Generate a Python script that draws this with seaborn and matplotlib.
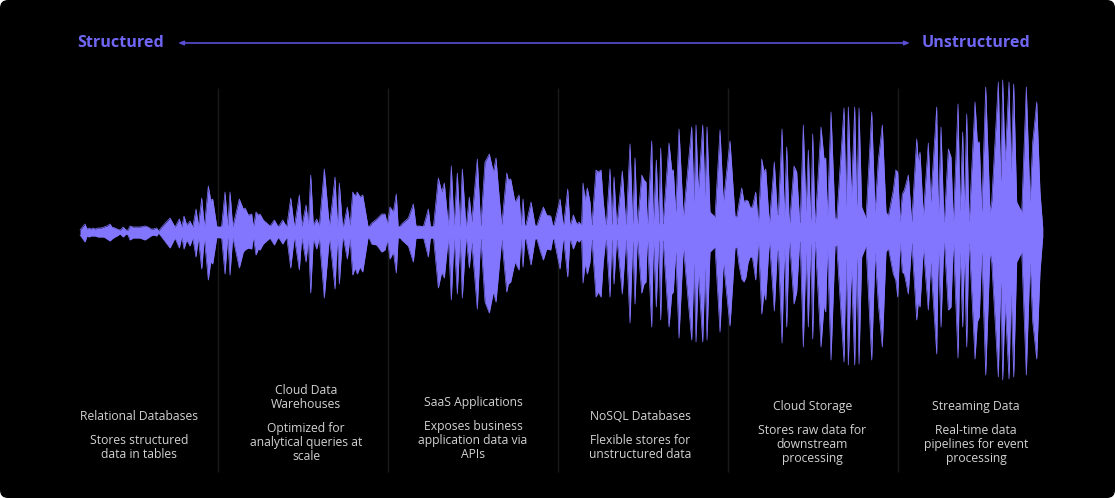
#!/usr/bin/env python3
"""
Waveform chart: structured to unstructured data sources
"""

import matplotlib
matplotlib.use('Agg')
import matplotlib.pyplot as plt
import pandas as pd
import seaborn as sns
from matplotlib.patches import FancyBboxPatch

# Waveform envelope
wave_x = [
    80, 85, 87, 89, 91, 93, 95, 98, 101, 104,
    107, 110, 112, 115, 117, 120, 123.3, 126, 128, 130,
    133, 136.7, 140, 145, 148, 151, 153.3, 156.7, 158.5,
    161.7, 170, 175,
    179.3, 181.7, 184, 186.7, 190, 192.7, 196, 198.3, 201.7, 204.3,
    208.3, 210.7, 212.7, 216.7, 221.3, 225, 227.7, 230, 232.7, 239.3,
    243.3, 245, 248.3, 251.7, 253.3, 256, 258.3, 260, 263.3, 270,
    274.3, 278.3, 282.7, 286.7, 290.7, 294.3, 299.3, 301.7, 306, 308.3,
    310.7, 313.3, 316.7, 319.3, 324.3, 329.3, 331.7, 335, 337.3, 339.3,
    342.7, 347.3, 350, 352.7, 355, 357.3, 360, 362.7, 368.3, 371.7,
    376.7, 381.7, 385, 387.3,
    390, 393.3, 396.3, 398.3, 401.7, 405, 408.3, 413.3, 416, 420,
    423.3, 428.3, 430.7, 433.3, 438.3, 441.7, 444.3, 448.3, 451.3, 454,
    457.3, 460, 462.3, 466, 469.3, 471.7, 477.3, 480.7, 485, 489.3,
    493.3, 496, 498.3, 501.7, 506.7, 508.3, 510.7, 515, 519, 521,
    523, 525, 531, 535.7, 540, 543.3, 546.7, 550.7, 553.3, 560,
    563.3, 567.7, 570, 573.3, 576.7, 579.3, 581.5, 583, 585, 587.3,
    590, 591.7, 596, 598.3, 601, 603.3, 606, 610, 611.7, 614,
    616.7, 622.3, 626, 630, 632.7, 635, 637.3, 641.7, 644, 646,
    647.3, 651.7, 653.3, 656.3, 658.7, 660.7, 662.7, 669, 671.7, 673.3,
    675.7, 679, 683.3, 691.7, 694, 696, 698.3, 702.7, 705, 707,
    710, 715,
    720, 723.3, 730, 735, 736.7, 739, 741.7, 744, 746, 748,
    750, 752.3, 755.7, 758.3, 761.7, 764, 765.7, 769.3, 774.3, 777.3,
    778.3, 782, 784.3, 786.7, 789.3, 794, 796.7, 800, 803.3, 806,
    808.3, 810.7, 812.7, 815, 821, 824, 825.7, 827.3, 831, 835,
    836.7, 844, 846, 848.3, 851.3, 854.7, 856.7, 859, 861.7, 866,
    871.7, 875, 878.3, 882.3, 886, 888.3, 893.3, 895.7, 897.7, 900,
    902.3, 904.3, 908.3, 911.7, 916.7, 918.3, 920, 923.3, 928.3, 930.7,
    936.7, 938.3, 941, 944, 948.3, 951, 953.3, 958, 960, 962.7,
    964.3, 966.7, 969, 975, 977.3, 979.3, 981.7, 985.7, 990, 991.7,
    998.3, 1000.7, 1002.7, 1005, 1009, 1011, 1013.7, 1016.7, 1021.7, 1026.3,
    1030, 1032.7, 1036.7, 1040, 1042.7,
]
wave_upper = [
    2, 8, 3, 4, 3, 4, 3, 4, 4, 5,
    6, 8, 5, 4, 3, 2, 5, 2, 2, 6,
    5, 5, 5, 6, 5, 3, 3, 4, 1,
    5, 14, 5,
    13, 5, 16, 7, 11, 5, 23, 6, 34, 5,
    46, 32, 33, 6, 3, 40, 6, 40, 5, 33,
    23, 24, 17, 18, 5, 20, 17, 18, 12, 6,
    12, 5, 12, 5, 34, 5, 37, 5, 27, 7,
    57, 7, 13, 6, 63, 6, 25, 55, 5, 49,
    3, 25, 6, 40, 36, 40, 35, 37, 4, 9,
    13, 18, 18, 8,
    25, 20, 38, 3, 8, 11, 14, 28, 6, 6,
    5, 23, 3, 4, 54, 40, 49, 6, 66, 6,
    59, 5, 63, 4, 35, 10, 73, 5, 70, 78,
    60, 74, 45, 7, 59, 52, 53, 30, 37, 6,
    33, 3, 30, 3, 16, 25, 17, 16, 4, 33,
    5, 43, 6, 17, 8, 10, 6, 49, 32, 44,
    30, 5, 62, 60, 62, 30, 4, 63, 5, 55,
    5, 61, 5, 88, 8, 74, 5, 57, 52, 50,
    4, 91, 8, 72, 6, 84, 4, 89, 62, 62,
    20, 103, 15, 105, 30, 107, 40, 107, 35, 105,
    20, 15,
    102, 30, 91, 16, 15, 29, 44, 30, 32, 31,
    25, 25, 40, 8, 73, 60, 63, 8, 70, 18,
    18, 103, 15, 85, 6, 66, 60, 4, 107, 20,
    82, 10, 98, 5, 105, 73, 74, 15, 120, 14,
    13, 124, 25, 125, 35, 125, 25, 124, 25, 14,
    120, 20, 72, 107, 20, 16, 42, 62, 60, 10,
    38, 42, 57, 10, 93, 70, 80, 16, 89, 30,
    125, 15, 105, 5, 83, 75, 8, 128, 20, 100,
    20, 118, 6, 130, 90, 90, 20, 145, 20, 30,
    150, 50, 152, 70, 150, 60, 148, 30, 20, 145,
    30, 90, 130, 40, 5,
]
wave_lower = [
    3, 10, 4, 5, 4, 4, 4, 5, 5, 5,
    7, 9, 7, 5, 4, 2, 5, 2, 3, 8,
    6, 6, 6, 8, 6, 4, 3, 4, 1,
    5, 16, 6,
    16, 5, 17, 8, 14, 6, 25, 6, 37, 6,
    48, 30, 32, 6, 3, 42, 5, 43, 5, 36,
    20, 18, 16, 17, 5, 23, 17, 18, 12, 6,
    13, 5, 12, 5, 36, 5, 38, 5, 30, 7,
    61, 7, 17, 6, 66, 6, 25, 57, 5, 52,
    3, 27, 6, 43, 36, 42, 35, 40, 4, 12,
    13, 20, 18, 8,
    27, 20, 41, 3, 8, 11, 14, 30, 6, 6,
    5, 25, 3, 4, 56, 40, 46, 6, 68, 6,
    62, 5, 66, 4, 36, 10, 77, 5, 70, 81,
    60, 70, 45, 7, 60, 52, 50, 30, 38, 6,
    35, 3, 33, 3, 18, 28, 17, 18, 4, 37,
    5, 45, 6, 17, 8, 10, 6, 51, 32, 42,
    30, 5, 65, 60, 65, 30, 4, 65, 5, 52,
    5, 62, 5, 91, 8, 72, 5, 61, 52, 50,
    4, 95, 8, 75, 6, 88, 4, 95, 62, 60,
    20, 106, 15, 108, 30, 110, 40, 110, 35, 108,
    20, 15,
    100, 30, 94, 16, 15, 33, 47, 50, 45, 31,
    25, 25, 48, 8, 82, 60, 68, 8, 79, 18,
    18, 111, 15, 95, 6, 72, 60, 4, 115, 20,
    95, 10, 107, 5, 115, 73, 80, 15, 128, 14,
    13, 130, 25, 133, 35, 133, 25, 132, 25, 14,
    128, 20, 72, 115, 20, 16, 42, 48, 65, 10,
    40, 42, 62, 10, 88, 70, 75, 16, 78, 30,
    122, 15, 95, 5, 78, 75, 8, 126, 20, 95,
    20, 115, 6, 127, 90, 85, 20, 143, 20, 30,
    145, 50, 148, 70, 147, 60, 145, 30, 20, 143,
    30, 90, 127, 40, 5,
]

# Solid band through the middle of the wave
core_x = [195, 220, 390, 560, 720, 900, 1030, 1042.7]
core_half = [2, 6, 6, 7, 9, 10, 12, 5]

# Labels below the waveform
source_names = [
    ['Relational Databases'],
    ['Cloud Data', 'Warehouses'],
    ['SaaS Applications'],
    ['NoSQL Databases'],
    ['Cloud Storage'],
    ['Streaming Data'],
]
source_notes = [
    ['Stores structured', 'data in tables'],
    ['Optimized for', 'analytical queries at', 'scale'],
    ['Exposes business', 'application data via', 'APIs'],
    ['Flexible stores for', 'unstructured data'],
    ['Stores raw data for', 'downstream', 'processing'],
    ['Real-time data', 'pipelines for event', 'processing'],
]
column_centers = [139, 306, 473, 640, 812.5, 976]
column_tops = [416, 390, 402, 416, 406, 406]
divider_x = [218, 388, 558, 728, 898]

WAVE_COLOR = '#8276FF'
TITLE_COLOR = '#7066F4'
ARROW_COLOR = '#5A4ED4'
TEXT_COLOR = '#D2D2D2'
CENTER_Y = 232


def draw_wave(ax):
    """Mirror the envelope around the centre line"""
    df = pd.DataFrame({'x': wave_x, 'upper': wave_upper, 'lower': wave_lower})
    df['top'] = CENTER_Y - df['upper']
    df['bottom'] = CENTER_Y + df['lower']
    ax.fill_between(df['x'], df['top'], df['bottom'], color=WAVE_COLOR, linewidth=0, zorder=3)
    sns.lineplot(data=df, x='x', y='top', color=WAVE_COLOR, linewidth=0.5, errorbar=None, ax=ax, zorder=3)
    sns.lineplot(data=df, x='x', y='bottom', color=WAVE_COLOR, linewidth=0.5, errorbar=None, ax=ax, zorder=3)

    core = pd.DataFrame({'x': core_x, 'half': core_half})
    ax.fill_between(core['x'], CENTER_Y - core['half'], CENTER_Y + core['half'],
                    color=WAVE_COLOR, linewidth=0, zorder=3)


def draw_labels(ax):
    """Column captions, one text per line"""
    for cx, top, names, notes in zip(column_centers, column_tops, source_names, source_notes):
        y = top
        for line in names:
            ax.text(cx, y, line, ha='center', va='center', color=TEXT_COLOR, fontsize=8.7)
            y += 14
        y += 10
        for line in notes:
            ax.text(cx, y, line, ha='center', va='center', color=TEXT_COLOR, fontsize=8.7)
            y += 14


def main():
    sns.set_theme(style='dark')
    plt.rcParams['font.family'] = ['Open Sans', 'DejaVu Sans']

    fig = plt.figure(figsize=(11.15, 4.98), dpi=100, facecolor='white')
    ax = fig.add_axes([0, 0, 1, 1])
    ax.set_xlim(0, 1115)
    ax.set_ylim(498, 0)
    ax.axis('off')

    ax.add_patch(FancyBboxPatch((8, 8), 1099, 482, boxstyle='round,pad=8,rounding_size=8',
                                facecolor='black', edgecolor='none', zorder=0))

    ax.vlines(divider_x, 88, 472, color='#1A1A1A', linewidth=1, zorder=1)
    draw_wave(ax)
    draw_labels(ax)

    ax.text(77.5, 43, 'Structured', ha='left', va='center', color=TITLE_COLOR, fontsize=11.6, fontweight='bold')
    ax.text(922, 43, 'Unstructured', ha='left', va='center', color=TITLE_COLOR, fontsize=11.6, fontweight='bold')
    ax.annotate('', xy=(178, 43), xytext=(910, 43),
                arrowprops=dict(arrowstyle='<|-|>,head_length=0.25,head_width=0.1', color=ARROW_COLOR,
                                linewidth=1.2, shrinkA=0, shrinkB=0))

    ax.set_xlabel('')
    ax.set_ylabel('')
    fig.savefig('out.png', dpi=100, facecolor='white')
    plt.close(fig)


if __name__ == "__main__":
    main()
